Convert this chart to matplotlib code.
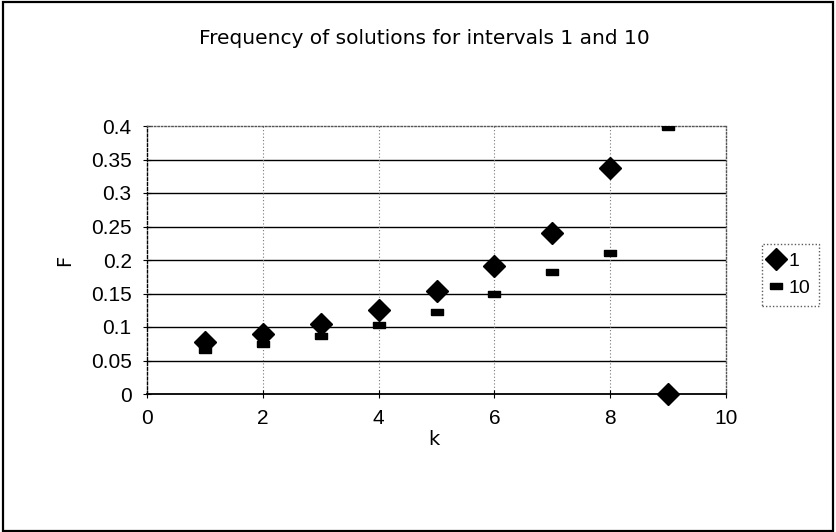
import matplotlib as mpl
mpl.use('Agg')
import matplotlib.pyplot as plt
from matplotlib.patches import Rectangle

# data
k = [1, 2, 3, 4, 5, 6, 7, 8, 9]
f_int1 = [0.078, 0.089, 0.105, 0.126, 0.154, 0.191, 0.241, 0.338, 0.0]
f_int10 = [0.066, 0.074, 0.087, 0.103, 0.123, 0.149, 0.182, 0.210, 0.399]
series_names = ['1', '10']
title = 'Frequency of solutions for intervals 1 and 10'
xticks = [0, 2, 4, 6, 8, 10]
yticks = [0, 0.05, 0.1, 0.15, 0.2, 0.25, 0.3, 0.35, 0.4]
ytick_labels = ['0', '0.05', '0.1', '0.15', '0.2', '0.25', '0.3', '0.35', '0.4']

plt.rcParams['font.family'] = ['Liberation Sans', 'DejaVu Sans']

fig = plt.figure(figsize=(8.36, 5.32), dpi=100)
ax = fig.add_axes([147 / 836, 1 - 394 / 532, (726 - 147) / 836, (394 - 126) / 532])

# outer chart border
fig.patches.append(Rectangle((0.004, 0.002), 0.993, 0.995, transform=fig.transFigure,
                             fill=False, edgecolor='black', linewidth=1.6))

dash = [(-1, -0.5), (1, -0.5), (1, 0.5), (-1, 0.5), (-1, -0.5)]
ax.plot(k, f_int1, linestyle='none', marker='D', markersize=11.5,
        color='black', label=series_names[0], clip_on=False, zorder=5)
ax.plot(k, f_int10, linestyle='none', marker=dash, markersize=8,
        color='black', label=series_names[1], zorder=5)

ax.set_xlim(0, 10)
ax.set_ylim(0, 0.4)
ax.set_xticks(xticks)
ax.set_yticks(yticks)
ax.set_yticklabels(ytick_labels)

# gridlines: solid horizontal, dotted vertical
for y in yticks[1:-1]:
    ax.axhline(y, color='black', linewidth=1.0, zorder=1)
for x in xticks[1:-1]:
    ax.axvline(x, color='#777777', linewidth=0.8, linestyle=(0, (1, 2)), zorder=1)

for side in ['top', 'right']:
    ax.spines[side].set_linestyle((0, (1, 1.5)))
    ax.spines[side].set_color('#555555')
    ax.spines[side].set_linewidth(1.0)
ax.spines['left'].set_linestyle((0, (2, 1.5)))
ax.spines['left'].set_linewidth(1.0)
ax.spines['bottom'].set_linewidth(1.3)

ax.tick_params(direction='inout', length=6, width=0.8, labelsize=15, pad=8)
ax.set_xlabel('k', fontsize=14, family='DejaVu Sans')
ax.set_ylabel('F', fontsize=14, family='DejaVu Sans')
ax.xaxis.set_label_coords(0.495, -0.135)
ax.yaxis.set_label_coords(-0.125, 0.5)

fig.text(0.508, 1 - 38 / 532, title, ha='center', va='center', fontsize=14.5,
         family='DejaVu Sans')

leg = ax.legend(loc='center left', bbox_to_anchor=(1.045, 0.445), frameon=True,
                fancybox=False, prop={'size': 14}, handlelength=0.6,
                handletextpad=0.3, borderpad=0.45, labelspacing=0.5)
leg.get_frame().set_edgecolor('#333333')
leg.get_frame().set_linestyle((0, (1, 1.5)))
leg.get_frame().set_linewidth(1.0)

fig.savefig('out.png', dpi=100)
plt.close(fig)
